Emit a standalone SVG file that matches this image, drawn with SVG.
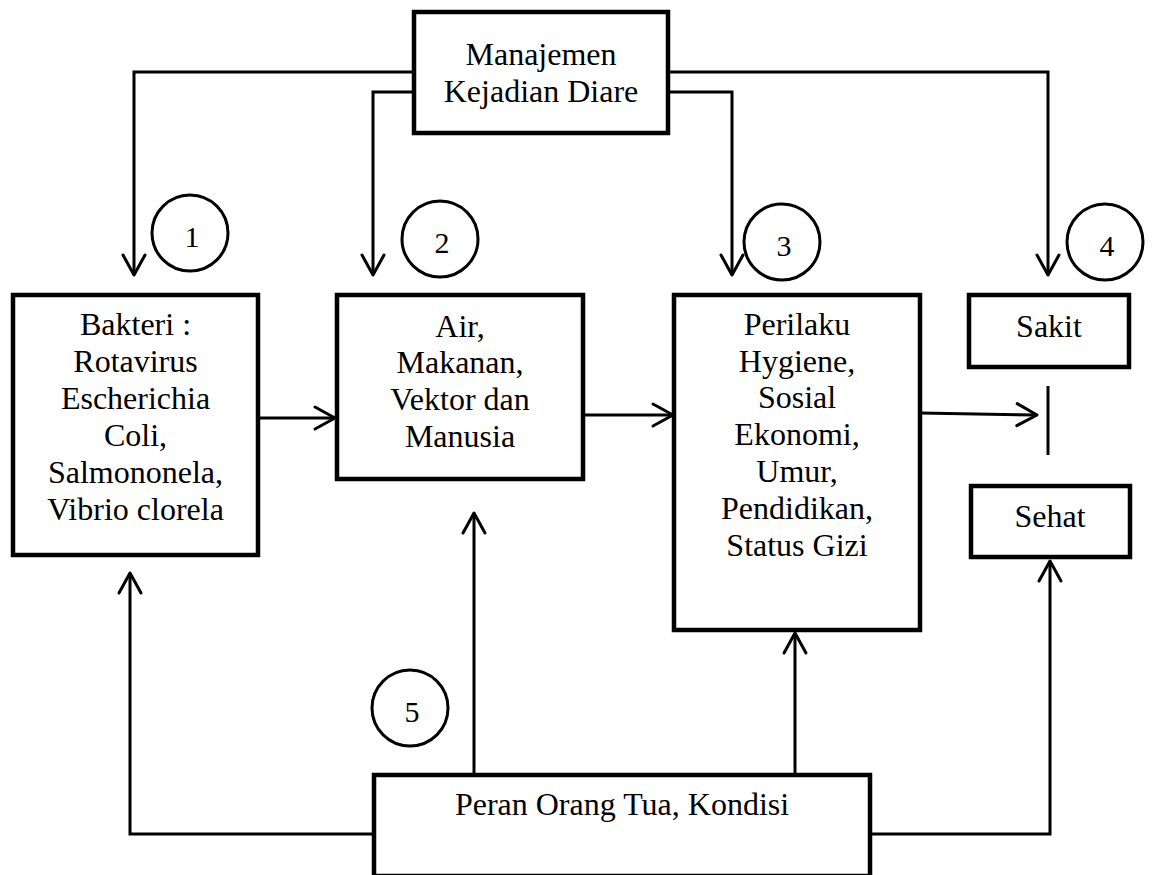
<svg xmlns="http://www.w3.org/2000/svg" width="1154" height="875" viewBox="0 0 1154 875">
<style>
.box{fill:#fff;stroke:#000;stroke-width:4.5;stroke-linejoin:miter}
.circ{fill:#fff;stroke:#000;stroke-width:3}
.conn{fill:none;stroke:#000;stroke-width:3;stroke-linejoin:miter}
.t{font-size:32px;fill:#000;text-anchor:middle}
.n{font-size:30px;fill:#000;text-anchor:middle}
</style>
<defs>
<marker id="arr" markerUnits="userSpaceOnUse" markerWidth="30" markerHeight="30" viewBox="-25 -15 30 30" refX="0" refY="0" orient="auto">
<path d="M-20,-11 L0,0 L-20,11" fill="none" stroke="#000" stroke-width="3" stroke-linejoin="round" stroke-linecap="round"/>
</marker>
</defs>
<rect width="1154" height="875" fill="#fff"/>
<g id="connectors">
<path class="conn" d="M414,72 H134 V275" marker-end="url(#arr)"/>
<path class="conn" d="M414,92 H373 V275" marker-end="url(#arr)"/>
<path class="conn" d="M668,92 H732 V275" marker-end="url(#arr)"/>
<path class="conn" d="M668,72 H1048 V275" marker-end="url(#arr)"/>
<path class="conn" d="M258,418 H335" marker-end="url(#arr)"/>
<path class="conn" d="M583,415 H673" marker-end="url(#arr)"/>
<path class="conn" d="M920,413 L1037,415" marker-end="url(#arr)"/>
<path class="conn" d="M1048,386 V455"/>
<path class="conn" d="M374,834 H130 V573" marker-end="url(#arr)"/>
<path class="conn" d="M474,775 V513" marker-end="url(#arr)"/>
<path class="conn" d="M795,775 V633" marker-end="url(#arr)"/>
<path class="conn" d="M870,834 H1050 V561" marker-end="url(#arr)"/>
</g>
<g font-family="Liberation Serif, Times New Roman, DejaVu Serif, serif">
<g id="manajemen">
<rect class="box" x="414" y="12" width="254" height="121"/>
<text class="t" x="541" y="65">Manajemen</text>
<text class="t" x="541" y="102">Kejadian Diare</text>
</g>
<g id="bakteri">
<rect class="box" x="13" y="295" width="245" height="260"/>
<text class="t" x="135.5" y="335">Bakteri :</text>
<text class="t" x="135.5" y="372">Rotavirus</text>
<text class="t" x="135.5" y="409">Escherichia</text>
<text class="t" x="135.5" y="446">Coli,</text>
<text class="t" x="135.5" y="483">Salmononela,</text>
<text class="t" x="135.5" y="520">Vibrio clorela</text>
</g>
<g id="air">
<rect class="box" x="337" y="295" width="246" height="184"/>
<text class="t" x="460" y="337">Air,</text>
<text class="t" x="460" y="373">Makanan,</text>
<text class="t" x="460" y="410">Vektor dan</text>
<text class="t" x="460" y="447">Manusia</text>
</g>
<g id="perilaku">
<rect class="box" x="674" y="295" width="246" height="335"/>
<text class="t" x="797" y="335">Perilaku</text>
<text class="t" x="797" y="372">Hygiene,</text>
<text class="t" x="797" y="408">Sosial</text>
<text class="t" x="797" y="445">Ekonomi,</text>
<text class="t" x="797" y="482">Umur,</text>
<text class="t" x="797" y="519">Pendidikan,</text>
<text class="t" x="797" y="556">Status Gizi</text>
</g>
<g id="sakit">
<rect class="box" x="969" y="295" width="160" height="72"/>
<text class="t" x="1049" y="337">Sakit</text>
</g>
<g id="sehat">
<rect class="box" x="971" y="486" width="159" height="71"/>
<text class="t" x="1050" y="527">Sehat</text>
</g>
<g id="peran">
<rect class="box" x="374" y="775" width="496" height="101"/>
<text class="t" x="622" y="815">Peran Orang Tua, Kondisi</text>
</g>
<g id="c1"><circle class="circ" cx="190" cy="233" r="38"/><text class="n" x="192" y="247">1</text></g>
<g id="c2"><circle class="circ" cx="440" cy="239" r="38"/><text class="n" x="442" y="253">2</text></g>
<g id="c3"><circle class="circ" cx="782" cy="242" r="38"/><text class="n" x="784" y="256">3</text></g>
<g id="c4"><circle class="circ" cx="1105" cy="242" r="38"/><text class="n" x="1107" y="256">4</text></g>
<g id="c5"><circle class="circ" cx="410" cy="708" r="38"/><text class="n" x="412" y="722">5</text></g>
</g>
</svg>
